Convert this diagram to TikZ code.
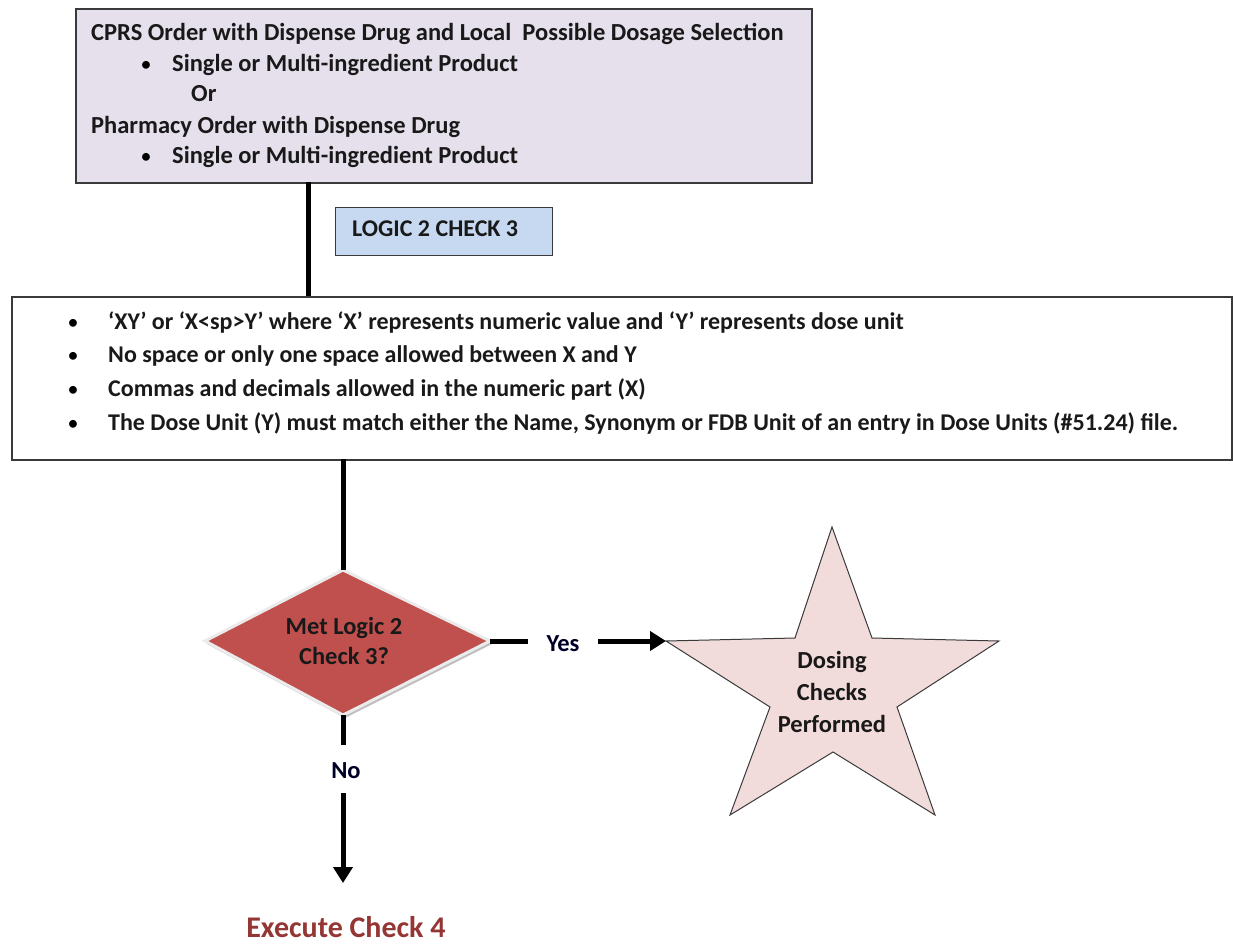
\documentclass[tikz,border=0pt]{standalone}
\usepackage{fontspec}
\setmainfont{Carlito}
\usetikzlibrary{arrows.meta}
\definecolor{lavender}{HTML}{E5E0EC}
\definecolor{paleblue}{HTML}{C6D9F1}
\definecolor{decision}{HTML}{C0504D}
\definecolor{starfill}{HTML}{F2DCDB}
\definecolor{brick}{HTML}{943634}
\definecolor{frame}{HTML}{3A3A3A}
\begin{document}
\begin{tikzpicture}[x=1pt,y=-1pt,
  every node/.style={inner sep=0pt},
  txt/.style={font=\bfseries\fontsize{24}{28}\selectfont, text=black!90, anchor=base west},
  toptxt/.style={txt, font=\bfseries\fontsize{24.5}{28}\selectfont},
  ctxt/.style={font=\bfseries\fontsize{24.5}{28}\selectfont, text=black!90, anchor=base},
  panel/.style={draw=frame, line width=1.5pt, anchor=north west},
  flow/.style={line width=5pt, black},
  flowarrow/.style={flow, -{Triangle[length=16pt,width=19pt]}},
  bul/.style={font=\fontsize{22}{24}\selectfont, anchor=base}]
\useasboundingbox (0,0) rectangle (1233,945);

% order source box
\node[panel, fill=lavender, minimum width=736pt, minimum height=174pt] (orders) at (75,8) {};
\node[toptxt] (o1) at (91,40) {CPRS Order with Dispense Drug and Local\ \ Possible Dosage Selection};
\node[bul] at (146,71) {\textbullet};
\node[toptxt] (o2) at (172,71) {Single or Multi-ingredient Product};
\node[toptxt] (o3) at (191,101) {Or};
\node[toptxt] (o4) at (91,133) {Pharmacy Order with Dispense Drug};
\node[bul] at (146,163) {\textbullet};
\node[toptxt] (o5) at (172,163) {Single or Multi-ingredient Product};

% rule box
\node[panel, fill=white, minimum width=1220pt, minimum height=163pt] (rules) at (11,296) {};
\foreach \yy/\t in {329/{‘XY’ or ‘X<sp>Y’ where ‘X’ represents numeric value and ‘Y’ represents dose unit},
                    362/{No space or only one space allowed between X and Y},
                    396/{Commas and decimals allowed in the numeric part (X)},
                    430/{The Dose Unit (Y) must match either the Name, Synonym or FDB Unit of an entry in Dose Units (\#51.24) file.}}{
  \node[bul] at (73,\yy) {\textbullet};
  \node[txt] at (108,\yy) {\t};
}

% connector between the two boxes with its label
\coordinate (c1) at (308,182);
\coordinate (c2) at (308,296);
\draw[flow] (c1) -- (c2);
\node[draw=frame, line width=1pt, fill=paleblue, minimum width=217pt, minimum height=48pt, anchor=north west] (logic) at (335,207) {};
\node[txt] at (352,236) {LOGIC 2 CHECK 3};

% decision diamond
\coordinate (dtop) at (343,570);
\coordinate (dright) at (490,641);
\coordinate (dbottom) at (343,715);
\coordinate (dleft) at (205,641);
\fill[black!25] ([shift={(2,3)}]dtop) -- ([shift={(2,3)}]dright) -- ([shift={(2,3)}]dbottom) -- ([shift={(2,3)}]dleft) -- cycle;
\draw[fill=decision, draw=white!92!black, line width=3pt, line join=miter] (dtop) -- (dright) -- (dbottom) -- (dleft) -- cycle;
\node[ctxt, align=center, anchor=center] (decide) at (344,641) {Met Logic 2\\[2pt]Check 3?};
\draw[flow] (343,459) -- (dtop);

% yes branch to star
\node[ctxt, text=black!85!blue] (yes) at (563,651) {Yes};
\coordinate (s1) at (832,527);
\coordinate (s2) at (872,638);
\coordinate (s3) at (999,641);
\coordinate (s4) at (897,707);
\coordinate (s5) at (935,815);
\coordinate (s6) at (833,752);
\coordinate (s7) at (730,815);
\coordinate (s8) at (770,707);
\coordinate (s9) at (666,641);
\coordinate (s10) at (795,638);
\draw[fill=starfill, draw=frame, line width=1pt, line join=miter] (s1) -- (s2) -- (s3) -- (s4) -- (s5) -- (s6) -- (s7) -- (s8) -- (s9) -- (s10) -- cycle;
\node[ctxt, align=center, anchor=center] (done) at (832,692) {Dosing\\[4pt]Checks\\[4pt]Performed};
\draw[flow] (dright) -- (528,641);
\draw[flowarrow] (598,641) -- (s9);

% no branch
\node[ctxt, text=black!85!blue] (no) at (346,778) {No};
\draw[flow] (dbottom) -- (343,745);
\coordinate (noend) at (343,883);
\draw[flowarrow] (343,793) -- (noend);
\node[font=\bfseries\fontsize{30}{34}\selectfont, text=brick, anchor=base] (exec) at (346,937) {Execute Check 4};
\end{tikzpicture}
\end{document}
